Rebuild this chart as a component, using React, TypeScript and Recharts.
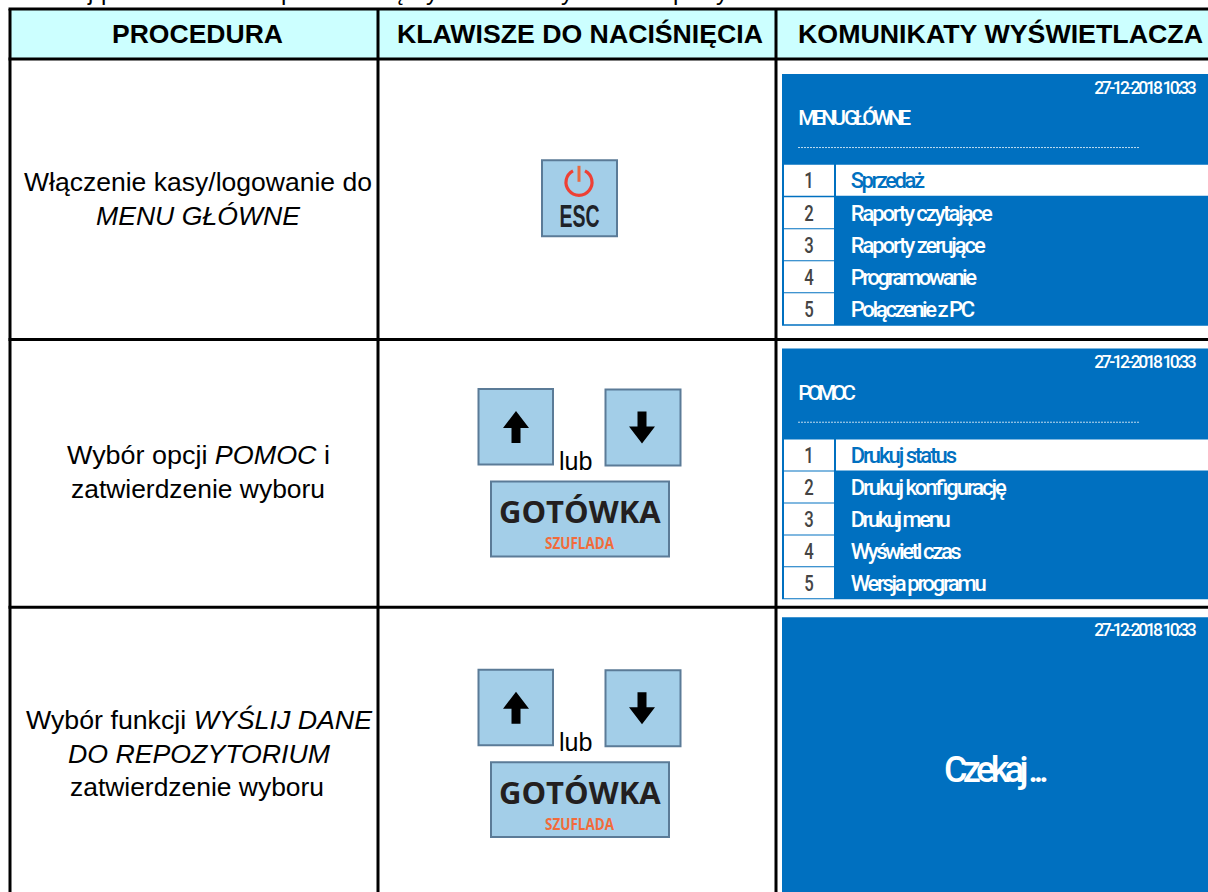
import { ReferenceArea, ReferenceLine, Scatter, ScatterChart, XAxis, YAxis } from 'recharts';

const WIDTH = 1208;
const HEIGHT = 892;

const SANS = '"Liberation Sans", Arial, sans-serif';
const DISPLAY = 'Roboto, sans-serif';
const BLUE = '#0070c0';
const KEY_FILL = '#a3cee8';
const KEY_EDGE = '#5b7b97';

// ---------- texts ----------

const HEADERS = ['PROCEDURA', 'KLAWISZE DO NACIŚNIĘCIA', 'KOMUNIKATY WYŚWIETLACZA'];
const CLIPPED_LETTERS = ['j', 'p', 'p', 'ę', 'y', 'y', 'p', 'y'];
const MAIN_MENU = ['Sprzedaż', 'Raporty czytające', 'Raporty zerujące', 'Programowanie', 'Połączenie z PC'];
const HELP_MENU = ['Drukuj status', 'Drukuj konfigurację', 'Drukuj menu', 'Wyświetl czas', 'Wersja programu'];
const MENU_NUMBERS = ['1', '2', '3', '4', '5'];
const SCREEN_DATE = '27-12-2018 10:33';

type Run = { text: string; italic?: boolean };

const PROCEDURE_LINES: Run[][] = [
  [{ text: 'Włączenie kasy/logowanie do' }],
  [{ text: 'MENU GŁÓWNE', italic: true }],
  [{ text: 'Wybór opcji ' }, { text: 'POMOC', italic: true }, { text: ' i' }],
  [{ text: 'zatwierdzenie wyboru' }],
  [{ text: 'Wybór funkcji ' }, { text: 'WYŚLIJ DANE', italic: true }],
  [{ text: 'DO REPOZYTORIUM', italic: true }],
  [{ text: 'zatwierdzenie wyboru' }],
];

// ---------- table layout, in page pixels (the axes below map them 1:1) ----------

const COLUMN_LINES = [10, 378, 776];
const ROW_LINES = [8, 58, 339, 607];

const HEADER_SPANS = [[112, 283], [397, 763], [798, 1203]];
const PROCEDURE_SPANS = [[24, 372], [96, 300], [67, 330], [71, 325], [26, 372], [68, 330], [70, 324]];
const PROCEDURE_BASELINES = [190, 224, 464, 498, 729, 763, 796];
const CLIPPED_X = [88, 101, 281, 393, 426, 561, 673, 716];

const SCREEN_TOPS = [73, 348, 617];
const SCREEN_BOTTOMS = [325, 599, 892];
const DATE_BASELINES = [92.7, 367.3, 635.7];
const MENU_ROW_TOPS = [[164, 196.5, 228.5, 260.5, 292.5], [439, 471, 503, 535, 567]];
const MENU_ROW_HEIGHT = 31;
const MAIN_MENU_ENDS = [925, 992.7, 985.7, 977, 975];
const HELP_MENU_ENDS = [957, 1006.7, 950.7, 961.7, 986.7];

const ARROW_ROW_TOPS = [388, 669];

type Item = {
  x: number;
  y: number;
  runs?: Run[];
  end?: number;
  font?: string;
  size?: number;
  weight?: number;
  fill?: string;
  anchor?: 'start' | 'middle';
  adjust?: 'spacing' | 'spacingAndGlyphs';
  glyph?: 'up' | 'down' | 'power';
};

const textItems: Item[] = [
  ...CLIPPED_LETTERS.map((text, i) => ({ x: CLIPPED_X[i], y: -1, runs: [{ text }], size: 24 })),
  ...HEADERS.map((text, i) => ({
    x: HEADER_SPANS[i][0],
    end: HEADER_SPANS[i][1],
    y: 42,
    runs: [{ text }],
    size: 25.5,
    weight: 700,
  })),
  ...PROCEDURE_LINES.map((runs, i) => ({
    x: PROCEDURE_SPANS[i][0],
    end: PROCEDURE_SPANS[i][1],
    y: PROCEDURE_BASELINES[i],
    runs,
    size: 25.5,
  })),
];

function keyLabels(): Item[] {
  const items: Item[] = [
    { x: 559.5, end: 599.5, y: 226, runs: [{ text: 'ESC' }], size: 31, weight: 700, fill: '#1f2328' },
  ];
  for (const top of ARROW_ROW_TOPS) {
    items.push({ x: 559, end: 592.5, y: top + 82, runs: [{ text: 'lub' }], size: 25.5 });
    items.push({
      x: 499,
      end: 660.7,
      y: top + 134.5,
      runs: [{ text: 'GOTÓWKA' }],
      font: '"Open Sans", sans-serif',
      size: 31,
      weight: 700,
      fill: '#231f20',
    });
    items.push({
      x: 545,
      end: 614,
      y: top + 160.5,
      runs: [{ text: 'SZUFLADA' }],
      font: '"Open Sans", sans-serif',
      size: 16,
      weight: 700,
      fill: '#f26b3a',
    });
  }
  return items;
}

function displayText(x: number, end: number, y: number, text: string, size: number, fill = '#ffffff'): Item {
  return { x, end, y, runs: [{ text }], font: DISPLAY, size, fill, weight: 500, adjust: 'spacing' };
}

function menuLabels(labels: string[], ends: number[], tops: number[]): Item[] {
  const items: Item[] = [];
  labels.forEach((label, i) => {
    const baseline = tops[i] + 23.5;
    items.push({
      x: 809,
      end: 818.5,
      y: baseline,
      runs: [{ text: MENU_NUMBERS[i] }],
      font: DISPLAY,
      size: 22,
      weight: 500,
      fill: '#444444',
      anchor: 'middle',
    });
    items.push(displayText(850.7, ends[i], baseline, label, 22, i === 0 ? BLUE : '#ffffff'));
  });
  return items;
}

const screenItems: Item[] = [
  ...DATE_BASELINES.map((y) => displayText(1094.3, 1196.7, y, SCREEN_DATE, 17.5)),
  displayText(798.3, 911, 124, 'MENU GŁÓWNE', 21),
  displayText(798.3, 856, 399.3, 'POMOC', 21),
  displayText(944, 1049, 781.7, 'Czekaj ...', 36),
  ...menuLabels(MAIN_MENU, MAIN_MENU_ENDS, MENU_ROW_TOPS[0]),
  ...menuLabels(HELP_MENU, HELP_MENU_ENDS, MENU_ROW_TOPS[1]),
];

const glyphItems: Item[] = [
  { x: 579, y: 181, glyph: 'power' },
  ...ARROW_ROW_TOPS.flatMap((top): Item[] => [
    { x: 516, y: top + 38.5, glyph: 'up' },
    { x: 642, y: top + 39, glyph: 'down' },
  ]),
];

// ---------- custom scatter shapes ----------

function TextMark({ cx, cy, payload }: any) {
  const item: Item = payload;
  const font = item.font ?? SANS;
  return (
    <text
      x={cx}
      y={cy}
      fontFamily={font}
      fontSize={item.size}
      fontWeight={item.weight ?? 400}
      fill={item.fill ?? '#000000'}
      textAnchor={item.anchor ?? 'start'}
      textLength={item.end ? item.end - item.x : undefined}
      lengthAdjust={item.end ? item.adjust ?? 'spacingAndGlyphs' : undefined}
      style={{ whiteSpace: 'pre' }}
    >
      {item.runs?.map((run, i) => (
        <tspan key={i} fontStyle={run.italic ? 'italic' : 'normal'}>
          {run.text}
        </tspan>
      ))}
    </text>
  );
}

function GlyphMark({ cx, cy, payload }: any) {
  if (payload.glyph === 'power') {
    return (
      <g fill="none" stroke="#ee4035" strokeWidth={3}>
        <path d={`M ${cx - 6} ${cy - 11} A 13 13 0 1 0 ${cx + 6} ${cy - 11}`} strokeWidth={3.2} />
        <line x1={cx} y1={cy - 16} x2={cx} y2={cy} strokeWidth={3} stroke="#e9683f" />
      </g>
    );
  }
  // arrows are drawn pointing up around the point, the down key flips them
  const flip = payload.glyph === 'down' ? -1 : 1;
  const pts = [
    [0, -16],
    [13, 1],
    [4.5, 1],
    [4.5, 16],
    [-4.5, 16],
    [-4.5, 1],
    [-13, 1],
  ]
    .map(([dx, dy]) => `${cx + dx},${cy + dy * flip}`)
    .join(' ');
  return <polygon points={pts} fill="#000000" />;
}

// ---------- helpers for the boxes ----------

function Box(x1: number, x2: number, y1: number, y2: number, fill: string, stroke?: string, key?: string) {
  return (
    <ReferenceArea
      key={key ?? `${x1}-${y1}-${fill}`}
      x1={x1}
      x2={x2}
      y1={y1}
      y2={y2}
      fill={fill}
      fillOpacity={1}
      stroke={stroke ?? 'none'}
      strokeWidth={stroke ? 2 : 0}
      ifOverflow="extendDomain"
    />
  );
}

export default function App() {
  const keyBoxes = [
    [542, 617, 159.5, 235.5],
    ...ARROW_ROW_TOPS.flatMap((top) => [
      [478.5, 553, top + 0.5, top + 76],
      [605.5, 680.5, top + 1, top + 77],
      [491, 669, top + 93, top + 168],
    ]),
  ];

  return (
    <div style={{ position: 'absolute', left: 0, top: 0, width: WIDTH, height: HEIGHT, background: '#ffffff' }}>
      <ScatterChart width={WIDTH} height={HEIGHT} margin={{ top: 0, right: 0, bottom: 0, left: 0 }}>
        <XAxis type="number" dataKey="x" domain={[0, WIDTH]} hide />
        <YAxis type="number" dataKey="y" domain={[0, HEIGHT]} reversed hide />

        {Box(COLUMN_LINES[0], WIDTH, ROW_LINES[0], ROW_LINES[1], '#ccffff')}

        {SCREEN_TOPS.map((top, i) => Box(782, WIDTH, top, SCREEN_BOTTOMS[i], BLUE))}
        {MENU_ROW_TOPS.flatMap((tops, s) => [
          ...tops.map((top) => Box(784, 834, top, top + MENU_ROW_HEIGHT, '#ffffff')),
          Box(836, WIDTH, tops[0], tops[0] + MENU_ROW_HEIGHT, '#ffffff', undefined, `highlight-${s}`),
        ])}
        {keyBoxes.map(([x1, x2, y1, y2]) => Box(x1, x2, y1, y2, KEY_FILL, KEY_EDGE))}

        {[146.7, 421.7].map((y) => (
          <ReferenceLine
            key={y}
            segment={[
              { x: 798, y },
              { x: 1140, y },
            ]}
            stroke="#ffffff"
            strokeWidth={1}
            strokeDasharray="2 1"
            strokeOpacity={0.75}
          />
        ))}

        {ROW_LINES.map((y) => (
          <ReferenceLine
            key={y}
            segment={[
              { x: COLUMN_LINES[0] - 1.5, y },
              { x: WIDTH, y },
            ]}
            stroke="#000000"
            strokeWidth={3}
          />
        ))}
        {COLUMN_LINES.map((x) => (
          <ReferenceLine
            key={x}
            segment={[
              { x, y: ROW_LINES[0] },
              { x, y: HEIGHT },
            ]}
            stroke="#000000"
            strokeWidth={3}
          />
        ))}

        <Scatter data={glyphItems} shape={GlyphMark} isAnimationActive={false} />
        <Scatter data={textItems} shape={TextMark} isAnimationActive={false} />
        <Scatter data={keyLabels()} shape={TextMark} isAnimationActive={false} />
        <Scatter data={screenItems} shape={TextMark} isAnimationActive={false} />
      </ScatterChart>
    </div>
  );
}
